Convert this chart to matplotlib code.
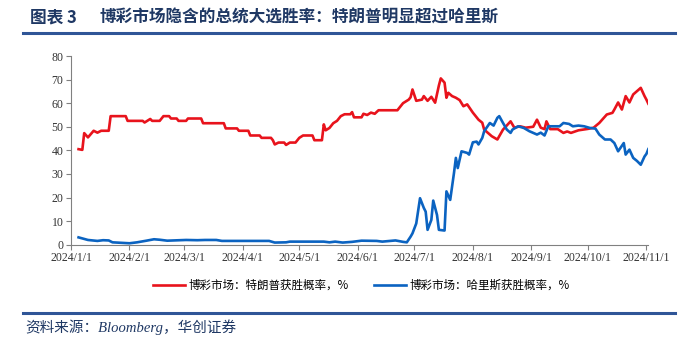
import matplotlib
matplotlib.use("Agg")
import matplotlib.pyplot as plt
import pandas as pd

# 博彩市场：特朗普获胜概率（%）
trump_dates = [
    "2024-01-05", "2024-01-07", "2024-01-08", "2024-01-10", "2024-01-13", "2024-01-15", "2024-01-17",
    "2024-01-21", "2024-01-22", "2024-01-30", "2024-01-31", "2024-02-08", "2024-02-09", "2024-02-12",
    "2024-02-13", "2024-02-17", "2024-02-19", "2024-02-22", "2024-02-23", "2024-02-26", "2024-02-27",
    "2024-03-02", "2024-03-03", "2024-03-10", "2024-03-11", "2024-03-22", "2024-03-23", "2024-03-29",
    "2024-03-30", "2024-04-04", "2024-04-05", "2024-04-10", "2024-04-11", "2024-04-16", "2024-04-17",
    "2024-04-18", "2024-04-20", "2024-04-23", "2024-04-24", "2024-04-26", "2024-04-29", "2024-05-01",
    "2024-05-03", "2024-05-08", "2024-05-09", "2024-05-13", "2024-05-14", "2024-05-15", "2024-05-17",
    "2024-05-19", "2024-05-21", "2024-05-23", "2024-05-25", "2024-05-28", "2024-05-29", "2024-05-30",
    "2024-06-03", "2024-06-04", "2024-06-06", "2024-06-08", "2024-06-10", "2024-06-12", "2024-06-22",
    "2024-06-25", "2024-06-28", "2024-06-29", "2024-06-30", "2024-07-02", "2024-07-05", "2024-07-06",
    "2024-07-08", "2024-07-10", "2024-07-12", "2024-07-14", "2024-07-15", "2024-07-17", "2024-07-18",
    "2024-07-19", "2024-07-21", "2024-07-23", "2024-07-25", "2024-07-27", "2024-07-29", "2024-08-01",
    "2024-08-04", "2024-08-06", "2024-08-07", "2024-08-11", "2024-08-14", "2024-08-17", "2024-08-21",
    "2024-08-23", "2024-08-26", "2024-08-29", "2024-09-02", "2024-09-04", "2024-09-06", "2024-09-08",
    "2024-09-09", "2024-09-11", "2024-09-15", "2024-09-18", "2024-09-20", "2024-09-22", "2024-09-26",
    "2024-10-01", "2024-10-04", "2024-10-07", "2024-10-11", "2024-10-14", "2024-10-15", "2024-10-17",
    "2024-10-19", "2024-10-21", "2024-10-23", "2024-10-25", "2024-10-28", "2024-10-29", "2024-10-31",
    "2024-11-01", "2024-11-02",
]
trump_vals = [
    40.5, 40.2, 47.3, 45.5, 48.3, 47.5, 48.3,
    48.3, 54.5, 54.5, 52.5, 52.5, 51.8, 53.3,
    52.5, 52.5, 54.5, 54.5, 53.5, 53.5, 52.5,
    52.5, 53.5, 53.5, 51.5, 51.5, 49.3, 49.3,
    48.3, 48.3, 46.3, 46.3, 45.3, 45.3, 44.3,
    42.5, 43.3, 43.3, 42.3, 43.3, 43.3, 45.3,
    46.3, 46.3, 44.3, 44.3, 51.0, 48.5, 49.5,
    51.5, 52.5, 54.5, 55.3, 55.3, 56.2, 54.0,
    54.0, 55.5, 55.0, 56.0, 55.5, 57.0, 57.0,
    60.0, 61.5, 62.5, 65.8, 61.0, 61.5, 63.0,
    61.0, 62.7, 60.2, 67.5, 70.5, 68.7, 62.3,
    64.4, 63.0, 62.3, 61.3, 58.7, 59.5, 56.0,
    53.0, 51.7, 48.8, 46.0, 44.6, 48.8, 52.3,
    49.6, 50.2, 49.6, 50.0, 53.0, 49.6, 49.0,
    52.3, 49.0, 49.0, 47.4, 48.0, 47.4, 48.5,
    49.1, 49.6, 51.6, 55.2, 55.9, 57.3, 60.3,
    57.3, 63.0, 60.3, 63.7, 65.8, 66.5, 63.0,
    61.5, 59.8,
]

# 博彩市场：哈里斯获胜概率（%）
harris_dates = [
    "2024-01-05", "2024-01-10", "2024-01-15", "2024-01-18", "2024-01-21", "2024-01-23", "2024-02-01",
    "2024-02-05", "2024-02-10", "2024-02-14", "2024-02-17", "2024-02-21", "2024-03-02", "2024-03-08",
    "2024-03-12", "2024-03-18", "2024-03-21", "2024-04-15", "2024-04-18", "2024-04-24", "2024-04-26",
    "2024-05-14", "2024-05-17", "2024-05-20", "2024-05-24", "2024-05-29", "2024-06-03", "2024-06-11",
    "2024-06-14", "2024-06-21", "2024-06-25", "2024-06-27", "2024-06-29", "2024-06-30", "2024-07-02",
    "2024-07-04", "2024-07-06", "2024-07-07", "2024-07-08", "2024-07-10", "2024-07-11", "2024-07-13",
    "2024-07-14", "2024-07-17", "2024-07-18", "2024-07-20", "2024-07-22", "2024-07-23", "2024-07-24",
    "2024-07-26", "2024-07-29", "2024-07-30", "2024-08-01", "2024-08-03", "2024-08-04", "2024-08-06",
    "2024-08-07", "2024-08-10", "2024-08-12", "2024-08-14", "2024-08-15", "2024-08-17", "2024-08-19",
    "2024-08-21", "2024-08-22", "2024-08-25", "2024-08-28", "2024-08-31", "2024-09-04", "2024-09-06",
    "2024-09-08", "2024-09-10", "2024-09-16", "2024-09-18", "2024-09-21", "2024-09-23", "2024-09-26",
    "2024-09-29", "2024-10-02", "2024-10-05", "2024-10-07", "2024-10-10", "2024-10-13", "2024-10-15",
    "2024-10-17", "2024-10-20", "2024-10-21", "2024-10-23", "2024-10-25", "2024-10-27", "2024-10-29",
    "2024-10-31", "2024-11-01", "2024-11-02",
]
harris_vals = [
    3.1, 2.0, 1.6, 1.9, 1.8, 1.0, 0.6,
    1.0, 1.7, 2.3, 2.1, 1.7, 2.0, 1.9,
    2.0, 2.0, 1.6, 1.6, 0.9, 1.0, 1.3,
    1.3, 1.0, 1.3, 0.9, 1.2, 1.7, 1.6,
    1.3, 1.8, 1.2, 1.0, 3.4, 4.8, 9.0,
    19.7, 15.6, 14.0, 6.3, 10.5, 18.7, 12.6,
    6.3, 6.0, 22.6, 19.0, 30.4, 36.8, 32.5,
    39.6, 38.9, 38.2, 43.4, 43.7, 42.5, 45.3,
    48.1, 51.6, 50.5, 53.8, 54.5, 51.6, 48.8,
    47.4, 48.8, 50.2, 49.5, 48.1, 46.7, 47.5,
    46.3, 50.2, 50.2, 51.6, 51.2, 50.2, 50.5,
    50.2, 49.5, 49.2, 46.7, 44.6, 44.6, 43.1,
    39.6, 43.1, 38.2, 40.3, 36.8, 35.5, 33.9,
    37.4, 38.5, 40.5,
]

tick_dates = ["2024-01-01", "2024-02-01", "2024-03-01", "2024-04-01", "2024-05-01", "2024-06-01",
              "2024-07-01", "2024-08-01", "2024-09-01", "2024-10-01", "2024-11-01"]
tick_labels = ["2024/1/1", "2024/2/1", "2024/3/1", "2024/4/1", "2024/5/1", "2024/6/1",
               "2024/7/1", "2024/8/1", "2024/9/1", "2024/10/1", "2024/11/1"]

fig_no = "图表 3"
title = "博彩市场隐含的总统大选胜率：特朗普明显超过哈里斯"
legend_labels = ["博彩市场：特朗普获胜概率，%", "博彩市场：哈里斯获胜概率，%"]
source = "资料来源：Bloomberg，华创证券"

cjk = ["Noto Sans CJK SC", "DejaVu Sans"]
serif = ["Liberation Serif", "Noto Sans CJK SC"]
navy = "#1f3864"
red = "#e8131c"
blue = "#0b63c1"

fig = plt.figure(figsize=(6.88, 3.39), dpi=100)
ax = fig.add_axes([0.1032, 0.2782, 0.8391, 0.5566])

ax.plot(pd.to_datetime(trump_dates), trump_vals, color=red, lw=1.9, label=legend_labels[0])
ax.plot(pd.to_datetime(harris_dates), harris_vals, color=blue, lw=1.9, label=legend_labels[1])

ax.set_ylim(0, 80)
ax.set_yticks(range(0, 81, 10))
ax.set_xlim(pd.Timestamp("2024-01-01"), pd.Timestamp("2024-11-02"))
ax.set_xticks(pd.to_datetime(tick_dates))
ax.set_xticklabels(tick_labels)

for side in ["top", "right"]:
    ax.spines[side].set_visible(False)
for side in ["left", "bottom"]:
    ax.spines[side].set_color("#808080")
    ax.spines[side].set_linewidth(0.8)
ax.tick_params(length=3.5, width=0.8, color="#808080", labelsize=8.5, labelcolor="#333333", pad=2)
for lab in ax.get_xticklabels() + ax.get_yticklabels():
    lab.set_family(serif)

fig.legend(loc="center", bbox_to_anchor=(0.525, 0.158), ncol=2, frameon=False,
           prop={"family": cjk, "size": 8.3}, handlelength=2.8, columnspacing=2.2,
           handletextpad=0.3)

fig.text(0.044, 0.948, fig_no, family=cjk, fontsize=12, fontweight="bold", color=navy,
         va="center", ha="left")
fig.text(0.145, 0.948, title, family=cjk, fontsize=12, fontweight="bold", color=navy,
         va="center", ha="left")
fig.add_artist(plt.Line2D([0.034, 0.981], [0.902, 0.902], color="#2f5597", lw=2.2))
fig.add_artist(plt.Line2D([0.034, 0.981], [0.077, 0.077], color="#2f5597", lw=2.2))
fig.text(0.036, 0.036, source, family=serif, style="italic", fontsize=10.5, color=navy,
         va="center", ha="left")

fig.savefig("out.png", dpi=100)
